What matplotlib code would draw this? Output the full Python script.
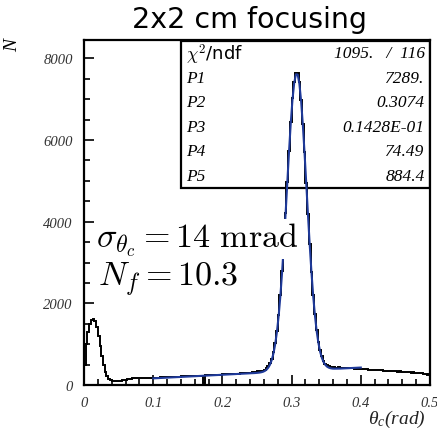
# -*- coding: utf-8 -*-
"""
histogramme theta_c, focalisation 2x2 cm
"""
import numpy as np
import matplotlib
matplotlib.use('Agg')
from matplotlib import pyplot as plt
from matplotlib.ticker import MultipleLocator

# 200 bins de 0.0025 rad entre 0 et 0.5
bin_width = 0.0025
counts = [500, 1000, 1300, 1500, 1600, 1620, 1560, 1420, 1200, 950,
          700, 480, 320, 210, 150, 120, 105, 100, 98, 100,
          105, 110, 118, 125, 135, 142, 150, 158, 165, 170,
          175, 172, 178, 170, 175, 168, 172, 170, 175, 172,
          178, 180, 183, 181, 186, 188, 190, 193, 191, 196,
          198, 200, 203, 201, 206, 208, 210, 213, 211, 216,
          218, 220, 223, 221, 226, 228, 230, 233, 231, 40,
          238, 240, 243, 246, 244, 249, 252, 254, 257, 255,
          260, 263, 266, 264, 270, 272, 275, 278, 276, 282,
          285, 288, 286, 292, 296, 300, 305, 310, 318, 325,
          335, 340, 350, 355, 380, 410, 455, 535, 645, 805,
          1030, 1330, 1720, 2210, 2795, 3470, 4210, 4980, 5740, 6440,
          7020, 7430, 7640, 7640, 7410, 6990, 6400, 5700, 4950, 4180,
          3450, 2780, 2210, 1730, 1350, 1060, 850, 700, 595, 525,
          480, 460, 445, 435, 430, 428, 425, 430, 422, 420,
          418, 415, 418, 410, 408, 405, 402, 405, 398, 395,
          392, 388, 390, 384, 380, 378, 375, 378, 370, 366,
          362, 365, 358, 355, 350, 352, 346, 342, 345, 338,
          334, 330, 333, 326, 322, 318, 320, 312, 308, 305,
          310, 300, 296, 290, 292, 285, 280, 260, 250, 275]

# courbe d'ajustement (bleue)
fit_x = [0.10, 0.15, 0.20, 0.2475,
         0.25125, 0.25375, 0.25625, 0.25875, 0.26125, 0.26375, 0.26625,
         0.26875, 0.27125, 0.27375, 0.27625, 0.27875, 0.28125, 0.28375,
         0.28625, 0.28875, 0.29125, 0.29375, 0.29625, 0.29875, 0.30125,
         0.30375, 0.30625, 0.30875, 0.31125, 0.31375, 0.31625, 0.31875,
         0.32125, 0.32375, 0.32625, 0.32875, 0.33125, 0.33375, 0.33625,
         0.33875, 0.34125, 0.34375, 0.34625, 0.34875, 0.35125, 0.35375,
         0.35625, 0.35875, 0.36125, 0.37, 0.40]
fit_y = [163, 207, 251, 294,
         300, 305, 313, 325, 345, 376, 425,
         499, 610, 771, 995, 1296, 1686, 2175,
         2761, 3436, 4175, 4948, 5709, 6406, 6985,
         7398, 7611, 7604, 7379, 6954, 6370, 5671,
         4913, 4144, 3414, 2748, 2174, 1697, 1317,
         1029, 815, 664, 561, 493, 450, 425,
         411, 403, 400, 402, 428]

stat_names = [r'$\chi^2$/ndf', 'P1', 'P2', 'P3', 'P4', 'P5']
stat_values = ['1095.   /  116', '7289.', '0.3074', '0.1428E-01',
               '74.49', '884.4']

serif = 'Liberation Serif'
plt.rcParams['mathtext.fontset'] = 'cm'

fig = plt.figure(figsize=(4.37, 4.35), dpi=100)
ax = fig.add_axes([0.1922, 0.1126, 0.7918, 0.7931])

edges = np.arange(len(counts) + 1) * bin_width
ax.stairs(counts, edges, color='black', linewidth=1.4, zorder=3)
ax.plot(fit_x, fit_y, color='#1f3a9a', linewidth=1.5, zorder=4)

ax.set_xlim(0, 0.5)
ax.set_ylim(0, 8450)
ax.xaxis.set_major_locator(MultipleLocator(0.1))
ax.xaxis.set_minor_locator(MultipleLocator(0.02))
ax.yaxis.set_major_locator(MultipleLocator(2000))
ax.yaxis.set_minor_locator(MultipleLocator(500))
ax.tick_params(which='both', direction='in', top=False, right=False,
               width=1.2, colors='black')
ax.tick_params(which='major', length=7, pad=8)
ax.tick_params(which='minor', length=4)
ax.set_xticks([0, 0.1, 0.2, 0.3, 0.4, 0.5])
ax.set_xticklabels(['0', '0.1', '0.2', '0.3', '0.4', '0.5'])
for lab in ax.get_xticklabels() + ax.get_yticklabels():
    lab.set_fontfamily(serif)
    lab.set_fontstyle('italic')
    lab.set_fontsize(10.5)
    lab.set_color('#333333')
for s in ax.spines.values():
    s.set_linewidth(1.6)

# boite de stats
x0 = 0.281
top, bot = 0.997, 0.571
box = plt.Rectangle((x0, bot), 1.0 - x0, top - bot, transform=ax.transAxes,
                    fill=False, edgecolor='black', linewidth=1.6, zorder=2)
ax.add_patch(box)
row_h = (top - bot) / len(stat_names)
for i, (n, v) in enumerate(zip(stat_names, stat_values)):
    yy = top - (i + 0.5) * row_h
    if i == 0:
        ax.text(x0 + 0.015, yy, n, transform=ax.transAxes, fontsize=13,
                family='DejaVu Sans', va='center', ha='left', zorder=5)
    else:
        ax.text(x0 + 0.015, yy, n, transform=ax.transAxes, fontsize=12.5,
                family=serif, style='italic', va='center', ha='left',
                zorder=5)
    ax.text(0.985, yy, v, transform=ax.transAxes, fontsize=12.5,
            family=serif, style='italic', va='center', ha='right', zorder=5)

ax.text(0.035, 0.403, r'$\sigma_{\theta_c}=14\ \mathrm{mrad}$',
        transform=ax.transAxes, fontsize=24.5, va='baseline', zorder=6,
        bbox=dict(facecolor='white', edgecolor='none', pad=0.5))
ax.text(0.04, 0.293, r'$N_f=10.3$', transform=ax.transAxes, fontsize=24.5,
        va='baseline', zorder=6,
        bbox=dict(facecolor='white', edgecolor='none', pad=0.5))

fig.text(0.57, 0.953, '2x2 cm focusing', fontsize=20.5, family='DejaVu Sans',
         ha='center', va='center')
fig.text(0.03, 0.895, 'N', fontsize=14, family=serif, style='italic',
         rotation=90, ha='center', va='center')
fig.text(0.975, 0.035, r'$\mathregular{\theta_c}$(rad)', fontsize=14,
         family=serif, style='italic', ha='right', va='center',
         color='#222222')

plt.savefig('out.png', dpi=100)
